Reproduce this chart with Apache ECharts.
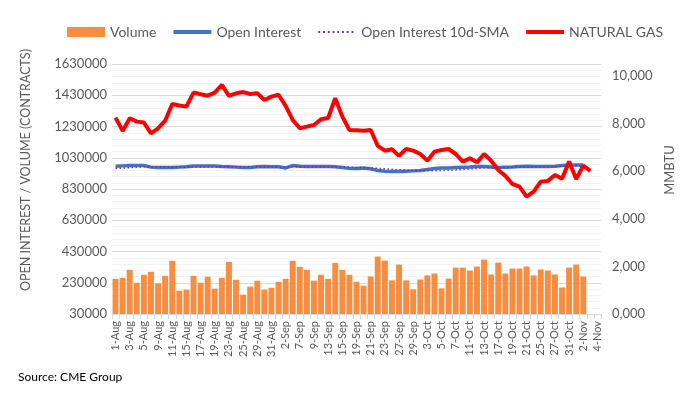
<!DOCTYPE html>
<html>
<head>
<meta charset="utf-8">
<script src="https://cdn.jsdelivr.net/npm/echarts@6/dist/echarts.min.js"></script>
<style>
  html, body { margin: 0; padding: 0; background: #fff; }
  #main { width: 688px; height: 396px; }
</style>
</head>
<body>
<div id="main"></div>
<script>
// trading days, 1-Aug to 4-Nov
const dates = [
  '1-Aug', '2-Aug', '3-Aug', '4-Aug', '5-Aug', '8-Aug', '9-Aug', '10-Aug', '11-Aug', '12-Aug',
  '15-Aug', '16-Aug', '17-Aug', '18-Aug', '19-Aug', '22-Aug', '23-Aug', '24-Aug', '25-Aug', '26-Aug',
  '29-Aug', '30-Aug', '31-Aug', '1-Sep', '2-Sep', '6-Sep', '7-Sep', '8-Sep', '9-Sep', '12-Sep',
  '13-Sep', '14-Sep', '15-Sep', '16-Sep', '19-Sep', '20-Sep', '21-Sep', '22-Sep', '23-Sep', '26-Sep',
  '27-Sep', '28-Sep', '29-Sep', '30-Sep', '3-Oct', '4-Oct', '5-Oct', '6-Oct', '7-Oct', '10-Oct',
  '11-Oct', '12-Oct', '13-Oct', '14-Oct', '17-Oct', '18-Oct', '19-Oct', '20-Oct', '21-Oct', '24-Oct',
  '25-Oct', '26-Oct', '27-Oct', '28-Oct', '31-Oct', '1-Nov', '2-Nov', '3-Nov', '4-Nov'
]

const volume = [
  255000, 262000, 313000, 230000, 281000, 300000, 226000, 274000, 370000, 179000,
  186000, 274000, 230000, 268000, 192000, 262000, 363000, 249000, 154000, 205000,
  243000, 186000, 198000, 236000, 255000, 370000, 332000, 313000, 243000, 281000,
  255000, 357000, 313000, 281000, 236000, 211000, 270000, 397000, 372000, 245000,
  346000, 245000, 188000, 251000, 277000, 289000, 194000, 257000, 327000, 327000,
  308000, 334000, 378000, 283000, 359000, 289000, 321000, 321000, 334000, 277000,
  315000, 308000, 283000, 200000, 327000, 346000, 270000
]

const openInterest = [
  976000, 978000, 980000, 981000, 980000, 970000, 967000, 967000, 967000, 970000,
  972000, 977000, 978000, 978000, 977000, 974000, 973000, 970000, 967000, 968000,
  972000, 974000, 973000, 972000, 965000, 980000, 975000, 974000, 974000, 974000,
  974000, 973000, 968000, 962000, 961000, 965000, 959000, 948000, 944000, 942000,
  942000, 944000, 946000, 948000, 955000, 961000, 965000, 965000, 967000, 969000,
  971000, 974000, 974000, 971000, 967000, 969000, 971000, 974000, 976000, 974000,
  974000, 974000, 976000, 980000, 983000, 983000, 983000
]

const oiSma = [
  962000, 964000, 967000, 970000, 972000, 973000, 973000, 972000, 971000, 971000,
  971000, 972000, 972000, 972000, 973000, 973000, 973000, 973000, 972000, 972000,
  972000, 972000, 971000, 971000, 971000, 972000, 973000, 973000, 973000, 973000,
  973000, 973000, 972000, 970000, 968000, 967000, 965000, 962000, 959000, 956000,
  953000, 951000, 949000, 948000, 947000, 947000, 948000, 950000, 952000, 955000,
  958000, 962000, 965000, 967000, 968000, 969000, 970000, 971000, 972000, 973000,
  973000, 973000, 974000, 975000, 976000, 977000, 978000
]

const naturalGas = [
  8250, 7690, 8220, 8080, 8040, 7590, 7800, 8120, 8820, 8760,
  8710, 9300, 9230, 9170, 9300, 9620, 9160, 9270, 9320, 9240,
  9270, 8990, 9130, 9210, 8740, 8150, 7800, 7870, 7940, 8180,
  8230, 9060, 8290, 7730, 7720, 7700, 7730, 7060, 6860, 6920,
  6640, 6930, 6860, 6720, 6440, 6820, 6890, 6930, 6720, 6400,
  6540, 6370, 6720, 6440, 6050, 5800, 5460, 5350, 4930, 5140,
  5560, 5590, 5840, 5680, 6400, 5670, 6230, 6010
]

const FONT = 'Lato'
const GREY = '#595959'

// legend icons: solid bar and dotted bar (40 x 4 boxes)
const solidIcon = 'path://M0,0H40V4H0Z'
const dottedIcon = 'path://M0,1h2v2h-2z M5,1h2v2h-2z M10,1h2v2h-2z M15,1h2v2h-2z M20,1h2v2h-2z M25,1h2v2h-2z M30,1h2v2h-2z M35,1h2v2h-2z M40,0v4h0z'

const myChart = echarts.init(document.getElementById('main'))

var option = {
  animation: false,
  textStyle: { fontFamily: FONT },
  legend: {
    top: 20,
    left: 62,
    itemGap: 17,
    itemWidth: 38,
    itemHeight: 10,
    textStyle: { color: GREY, fontSize: 14, fontFamily: FONT },
    data: [
      { name: 'Volume', icon: 'rect' },
      { name: 'Open Interest', icon: solidIcon },
      { name: 'Open Interest 10d-SMA', icon: dottedIcon },
      { name: 'NATURAL GAS', icon: solidIcon }
    ]
  },
  grid: {
    left: 112,
    right: 87,
    top: 64,
    bottom: 82,
    containLabel: false
  },
  xAxis: {
    type: 'category',
    boundaryGap: true,
    data: dates,
    axisLine: { lineStyle: { color: '#D9D9D9', width: 1 } },
    axisTick: { show: true, interval: 0, length: 5, lineStyle: { color: '#D9D9D9' } },
    axisLabel: {
      interval: 1,
      rotate: 90,
      color: GREY,
      fontSize: 11,
      fontFamily: FONT,
      margin: 7
    }
  },
  yAxis: [
    {
      type: 'value',
      min: 30000,
      max: 1630000,
      interval: 200000,
      name: 'OPEN INTEREST / VOLUME (CONTRACTS)',
      nameLocation: 'middle',
      nameRotate: 90,
      nameGap: 80,
      nameTextStyle: { color: GREY, fontSize: 12.5, fontFamily: FONT, padding: [0, 0, 0, 38] },
      axisLine: { show: false },
      axisTick: { show: false },
      axisLabel: {
        color: GREY,
        fontSize: 13,
        fontFamily: FONT,
        margin: 5,
        formatter: function (v) { return String(v) }
      },
      splitLine: { show: true, lineStyle: { color: '#D9D9D9', width: 1 } },
      minorTick: { show: false, splitNumber: 5 },
      minorSplitLine: { show: true, lineStyle: { color: '#F2F2F2', width: 1 } }
    },
    {
      type: 'value',
      min: 0,
      max: 10500,
      interval: 2000,
      position: 'right',
      name: 'MMBTU',
      nameLocation: 'middle',
      nameRotate: 90,
      nameGap: 62,
      nameTextStyle: { color: GREY, fontSize: 13, fontFamily: FONT, padding: [0, 0, 0, 38] },
      axisLine: { show: false },
      axisTick: { show: false },
      splitLine: { show: false },
      axisLabel: {
        color: GREY,
        fontSize: 13,
        fontFamily: FONT,
        margin: 11,
        showMaxLabel: false,
        formatter: function (v) {
          return v === 0 ? '0,000' : v.toLocaleString('en-US')
        }
      }
    }
  ],
  graphic: [
    {
      type: 'text',
      left: 18,
      top: 371,
      style: { text: 'Source: CME Group', fill: '#000', font: '12px ' + FONT }
    }
  ],
  series: [
    {
      name: 'Volume',
      type: 'bar',
      yAxisIndex: 0,
      barCategoryGap: '16%',
      itemStyle: { color: '#F68D40' },
      data: volume
    },
    {
      name: 'Open Interest',
      type: 'line',
      yAxisIndex: 0,
      symbol: 'none',
      smooth: false,
      itemStyle: { color: '#4472C4' },
      lineStyle: { color: '#4472C4', width: 3.5 },
      data: openInterest
    },
    {
      name: 'Open Interest 10d-SMA',
      type: 'line',
      yAxisIndex: 0,
      symbol: 'none',
      smooth: false,
      itemStyle: { color: '#7030A0' },
      lineStyle: { color: '#7030A0', width: 1.5, type: [1.5, 2.5] },
      data: oiSma
    },
    {
      name: 'NATURAL GAS',
      type: 'line',
      yAxisIndex: 1,
      symbol: 'none',
      smooth: false,
      itemStyle: { color: '#FF0000' },
      lineStyle: { color: '#FF0000', width: 4 },
      data: naturalGas
    }
  ]
}

option && myChart.setOption(option)
</script>
</body>
</html>
